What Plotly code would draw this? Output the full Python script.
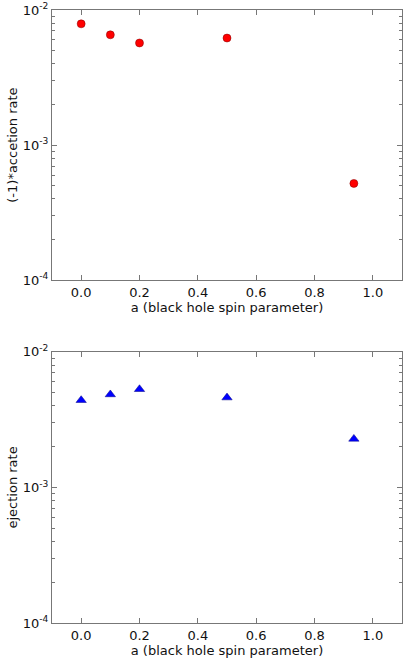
import plotly.graph_objects as go
from plotly.subplots import make_subplots

spin = [0.0, 0.1, 0.2, 0.5, 0.935]
accretion = [7.9e-3, 6.55e-3, 5.7e-3, 6.2e-3, 5.2e-4]
ejection = [4.4e-3, 4.85e-3, 5.3e-3, 4.6e-3, 2.28e-3]

xtick_vals = [0.0, 0.2, 0.4, 0.6, 0.8, 1.0]
xtick_text = ["0.0", "0.2", "0.4", "0.6", "0.8", "1.0"]
ytick_vals = [1e-4, 1e-3, 1e-2]
ytick_text = ["10<sup>-4</sup>", "10<sup>-3</sup>", "10<sup>-2</sup>"]

fig = make_subplots(rows=2, cols=1)

fig.add_trace(go.Scatter(x=spin, y=accretion, mode="markers",
                         marker=dict(symbol="circle", size=8, color="#ff0000",
                                     line=dict(color="#800000", width=0.5)),
                         showlegend=False), row=1, col=1)
fig.add_trace(go.Scatter(x=spin, y=ejection, mode="markers",
                         marker=dict(symbol="triangle-up", size=9, color="#0000ff",
                                     line=dict(color="#000080", width=0.5)),
                         showlegend=False), row=2, col=1)

font = dict(family="DejaVu Sans", size=13, color="#111")
axcolor = "#777"

for r, title in [(1, "(-1)*accetion rate"), (2, "ejection rate")]:
    fig.update_xaxes(row=r, col=1, range=[-0.1, 1.1], tickvals=xtick_vals, ticktext=xtick_text,
                     ticks="inside", ticklen=5, tickcolor=axcolor, mirror="allticks",
                     showline=True, linecolor=axcolor, linewidth=1, showgrid=False, zeroline=False,
                     tickfont=font, title=dict(text="a (black hole spin parameter)", font=font, standoff=1))
    fig.update_yaxes(row=r, col=1, type="log", range=[-4, -2], tickvals=ytick_vals, ticktext=ytick_text,
                     ticks="inside", ticklen=5, tickcolor=axcolor, mirror="allticks",
                     showline=True, linecolor=axcolor, linewidth=1, showgrid=False, zeroline=False,
                     minor=dict(ticks="inside", ticklen=3, tickcolor=axcolor, showgrid=False,
                                tickvals=[k * 10 ** e for e in (-4, -3) for k in range(2, 10)]),
                     tickfont=font, title=dict(text=title, font=font, standoff=2))

fig.update_layout(
    width=404, height=659,
    margin=dict(l=52, r=1, t=8, b=36),
    paper_bgcolor="white", plot_bgcolor="white",
    xaxis=dict(domain=[0, 1]), xaxis2=dict(domain=[0, 1]),
    yaxis=dict(domain=[0.5593, 1.0]), yaxis2=dict(domain=[0.0, 0.4423]),
)

fig.write_html("out.html")
